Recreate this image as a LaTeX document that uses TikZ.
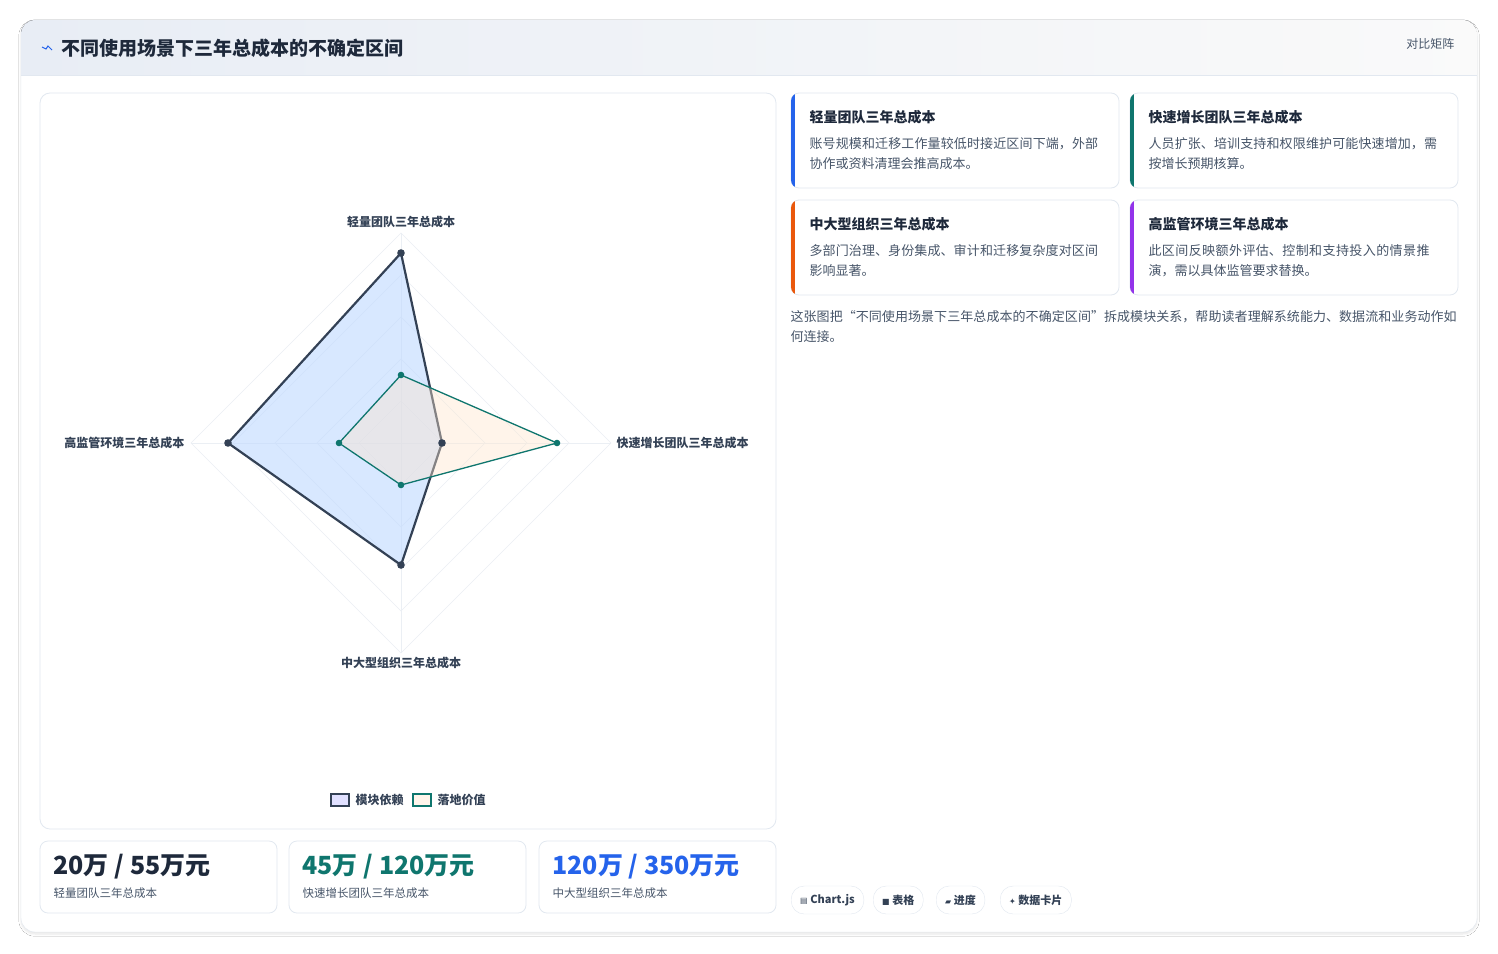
\documentclass[tikz,border=0pt]{standalone}
\usepackage{fontspec}
\setmainfont{Noto Sans CJK SC}
\newfontfamily\symf{DejaVu Sans}
\XeTeXlinebreaklocale "zh"
\XeTeXlinebreakskip=0pt plus 1pt
\usetikzlibrary{shadows.blur}
\definecolor{ink}{HTML}{1E293B}
\definecolor{sub}{HTML}{475569}
\definecolor{bord}{HTML}{E2E8F0}
\definecolor{dark}{HTML}{334155}
\definecolor{tealc}{HTML}{0F766E}
\definecolor{bluec}{HTML}{2563EB}
\definecolor{orc}{HTML}{EA580C}
\definecolor{purc}{HTML}{9333EA}
\definecolor{hdr}{HTML}{E8EDF5}
\tikzset{
 panel/.style={draw=bord,fill=white,rounded corners=10pt,line width=0.8pt},
 lab/.style={font=\fontsize{12}{14}\selectfont\bfseries,text=dark},
 ct/.style={anchor=north west,font=\fontsize{14}{16}\selectfont\bfseries,text=ink},
 cb/.style={anchor=north west,font=\fontsize{13}{20}\selectfont,text=sub,text width=292pt,align=left},
 tag/.style={draw=bord,fill=white,rounded corners=13pt,minimum height=28pt,inner xsep=9pt,font=\fontsize{11}{13}\selectfont\bfseries,text=dark},
 grid/.style={draw=bord!70,line width=0.6pt}
}
\begin{document}
\begin{tikzpicture}[x=1pt,y=-1pt]
\useasboundingbox (0,0) rectangle (1498,953);
\fill[white] (0,0) rectangle (1498,953);
\node[draw=bord,fill=white,rounded corners=14pt,minimum width=1456pt,minimum height=912pt,blur shadow={shadow blur steps=6,shadow opacity=10,shadow xshift=0pt,shadow yshift=-2pt}] (frame) at (749,476) {};
\begin{scope}
\clip[rounded corners=14pt] (21,20) rectangle (1477,932);
\fill[left color=hdr,right color=gray!4] (21,20) rectangle (1477,75);
\draw[bord] (21,75) -- (1477,75);
\end{scope}
\draw[bluec,line width=1pt] (42,47) -- (46,49) -- (48,46) -- (52,50);
\node[anchor=west,font=\fontsize{19}{22}\selectfont\bfseries,text=ink] (title) at (58,48) {不同使用场景下三年总成本的不确定区间};
\node[anchor=east,font=\fontsize{12}{14}\selectfont,text=sub] (mode) at (1458,44) {对比矩阵};
% chart panel
\draw[panel] (40,93) rectangle (776,829);
\coordinate (c) at (401,443);
\foreach \r in {42,84,126,168,210}
  \draw[grid] (401,443-\r) -- (401+\r,443) -- (401,443+\r) -- (401-\r,443) -- cycle;
\draw[grid] (401,233) -- (401,653) (191,443) -- (611,443);
\draw[dark,line width=2.2pt,fill=blue!60!cyan!25,fill opacity=0.6,draw opacity=1] (401,253) -- (442,443) -- (401,565) -- (228,443) -- cycle;
\draw[tealc,line width=1.3pt,fill=orange!20,fill opacity=0.4,draw opacity=1] (401,375) -- (557,443) -- (401,485) -- (339,443) -- cycle;
\foreach \p in {(401,253),(442,443),(401,565),(228,443)} \fill[dark] \p circle (3.8pt);
\foreach \p in {(401,375),(557,443),(401,485),(339,443)} \fill[tealc] \p circle (3.3pt);
\node[lab] (lt) at (401,222) {轻量团队三年总成本};
\node[lab,anchor=west] (lr) at (613,443) {快速增长团队三年总成本};
\node[lab] (lb) at (401,663) {中大型组织三年总成本};
\node[lab,anchor=east] (ll) at (188,443) {高监管环境三年总成本};
\draw[dark,line width=2pt,fill=blue!12] (331,794) rectangle (349,806);
\node[lab,anchor=west] (lg1) at (352,800) {模块依赖};
\draw[tealc,line width=2pt,fill=orange!8] (413,794) rectangle (431,806);
\node[lab,anchor=west] (lg2) at (434,800) {落地价值};
% stat cards
\foreach \x/\v/\col/\s in {40/{20万 / 55万元}/ink/轻量团队三年总成本,289/{45万 / 120万元}/tealc/快速增长团队三年总成本,539/{120万 / 350万元}/bluec/中大型组织三年总成本}{
 \draw[panel,rounded corners=8pt] (\x,841) rectangle (\x+237,913);
 \node[anchor=west,font=\fontsize{25}{28}\selectfont\bfseries,text=\col] at (\x+10,867) {\v};
 \node[anchor=west,font=\fontsize{11.5}{13}\selectfont,text=sub] at (\x+10,893) {\s};
}
% info cards
\foreach \x/\y/\col/\t/\b in {
 791/93/bluec/轻量团队三年总成本/账号规模和迁移工作量较低时接近区间下端，外部协作或资料清理会推高成本。,
 1130/93/tealc/快速增长团队三年总成本/人员扩张、培训支持和权限维护可能快速增加，需按增长预期核算。,
 791/200/orc/中大型组织三年总成本/多部门治理、身份集成、审计和迁移复杂度对区间影响显著。,
 1130/200/purc/高监管环境三年总成本/此区间反映额外评估、控制和支持投入的情景推演，需以具体监管要求替换。}{
 \draw[panel,rounded corners=8pt] (\x,\y) rectangle (\x+328,\y+95);
 \begin{scope}
 \clip[rounded corners=8pt] (\x,\y) rectangle (\x+328,\y+95);
 \fill[\col] (\x,\y) rectangle (\x+4,\y+95);
 \end{scope}
 \node[ct] at (\x+15,\y+14) {\t};
 \node[cb] at (\x+15,\y+41) {\b};
}
\node[anchor=north west,text width=668pt,align=left,font=\fontsize{13}{20}\selectfont,text=sub] (desc) at (787,307) {这张图把“不同使用场景下三年总成本的不确定区间”拆成模块关系，帮助读者理解系统能力、数据流和业务动作如何连接。};
\node[tag,anchor=west] (t1) at (791,900) {{\symf\fontsize{8}{8}\selectfont ▤} Chart.js};
\node[tag,anchor=west] (t2) at (873,900) {{\symf\fontsize{8}{8}\selectfont ■} 表格};
\node[tag,anchor=west] (t3) at (936,900) {{\symf\fontsize{8}{8}\selectfont ▰} 进度};
\node[tag,anchor=west] (t4) at (1000,900) {{\symf\fontsize{8}{8}\selectfont ✦} 数据卡片};
\end{tikzpicture}
\end{document}
